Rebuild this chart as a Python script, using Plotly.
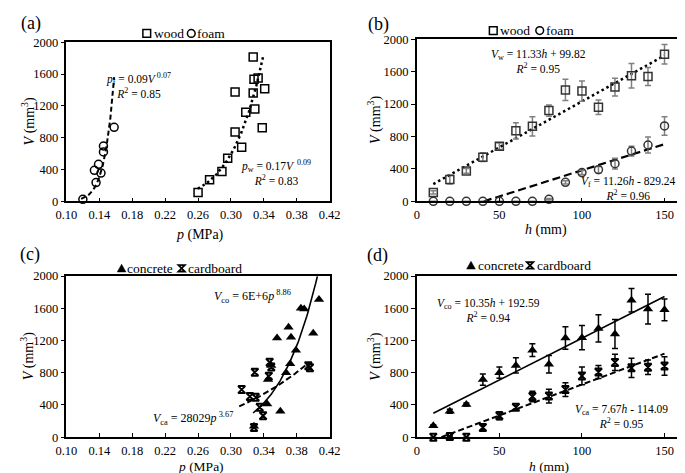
import numpy as np
import plotly.graph_objects as go

# ---------------- data ----------------
# (a) pressure p (MPa) vs volume V (mm^3)
a_wood_p = [0.260, 0.274, 0.289, 0.296, 0.305, 0.305, 0.313, 0.318, 0.327, 0.327, 0.328, 0.329, 0.333, 0.338, 0.341]
a_wood_V = [110, 270, 375, 540, 870, 1375, 680, 1120, 1360, 1815, 1535, 1160, 1550, 925, 1415]
a_foam_p = [0.120, 0.136, 0.134, 0.139, 0.142, 0.145, 0.145, 0.158]
a_foam_V = [25, 235, 390, 465, 355, 620, 695, 930]
# power-law trend curves p = a * V**b (as drawn), with V span
a_foam_fit = dict(a=0.0917, b=0.074, Vmin=30, Vmax=1560)
a_wood_fit = dict(a=0.1496, b=0.109, Vmin=158, Vmax=1813)

# (b) height h (mm) vs volume V (mm^3)
h_vals = [10, 20, 30, 40, 50, 60, 70, 80, 90, 100, 110, 120, 130, 140, 150]
b_wood_V = [110, 270, 375, 545, 680, 870, 925, 1120, 1375, 1360, 1160, 1410, 1550, 1540, 1815]
b_wood_err = [20, 55, 30, 55, 40, 100, 120, 70, 130, 125, 90, 110, 150, 110, 120]
b_foam_V = [0, 0, 0, 0, 0, 0, 0, 25, 235, 355, 390, 465, 620, 695, 930]
b_foam_err = [0, 0, 0, 0, 0, 0, 0, 10, 20, 25, 40, 65, 60, 100, 115]
b_wood_line = dict(slope=11.33, icpt=99.82, hmin=10, hmax=150)
b_foam_line = dict(slope=6.45, icpt=-262, hmin=40.6, hmax=150)

# (c) pressure vs volume: concrete / cardboard
c_conc_p = [0.328, 0.360, 0.344, 0.345, 0.367, 0.349, 0.379, 0.372, 0.356, 0.373, 0.370, 0.400, 0.407, 0.385, 0.389]
c_conc_V = [135, 320, 410, 715, 800, 890, 1080, 910, 1230, 1240, 1365, 1290, 1710, 1600, 1590]
c_card_p = [0.328, 0.339, 0.335, 0.330, 0.323, 0.313, 0.346, 0.329, 0.347, 0.396, 0.349, 0.394]
c_card_V = [120, 265, 370, 495, 505, 590, 755, 805, 930, 862, 870, 885]
c_conc_fit = dict(c=6e6, k=8.86, pmin=0.327, pmax=0.405)     # V = c * p**k
c_card_fit = dict(c=28029, k=3.67, pmin=0.310, pmax=0.395)

# (d) height vs volume: concrete / cardboard
d_conc_V = [140, 320, 405, 715, 800, 890, 1080, 905, 1230, 1235, 1350, 1280, 1700, 1590, 1580]
d_conc_err = [15, 25, 20, 70, 70, 95, 80, 110, 140, 150, 170, 180, 145, 185, 135]
d_card_V = [0, 8, 0, 120, 265, 370, 505, 510, 590, 760, 808, 928, 860, 868, 884]
d_card_err = [0, 10, 0, 30, 50, 25, 65, 85, 85, 110, 80, 100, 120, 90, 115]
d_conc_line = dict(slope=10.35, icpt=192.59, hmin=10, hmax=150)
d_card_line = dict(slope=7.67, icpt=-114.09, hmin=14.87, hmax=150)

p_ticks = [0.10, 0.14, 0.18, 0.22, 0.26, 0.30, 0.34, 0.38, 0.42]
h_ticks = [0, 50, 100, 150]
V_ticks = [0, 400, 800, 1200, 1600, 2000]

# ---------------- figure ----------------
W, H = 685, 473
FONT = "Liberation Serif"
BLACK = "#000000"


def px(x):
    return x / W


def py(y):
    return 1 - y / H


fig = go.Figure()


def markers(x, y, ax, symbol, size, color, lw=1.5, err=None, errcolor=None):
    kw = {}
    if err is not None:
        kw["error_y"] = dict(type="data", array=err, visible=True, color=errcolor,
                             thickness=1.5, width=3)
    fig.add_trace(go.Scatter(
        x=x, y=y, mode="markers", xaxis="x" + ax, yaxis="y" + ax,
        marker=dict(symbol=symbol, size=size, color=color, line=dict(width=lw, color=color)),
        cliponaxis=False, showlegend=False, **kw))


def line(x, y, ax, dash, width=2.0):
    fig.add_trace(go.Scatter(
        x=x, y=y, mode="lines", xaxis="x" + ax, yaxis="y" + ax,
        line=dict(color=BLACK, width=width, dash=dash), showlegend=False,
        hoverinfo="skip"))


# (a)
Vf = np.linspace(a_foam_fit["Vmin"], a_foam_fit["Vmax"], 80)
line(a_foam_fit["a"] * Vf ** a_foam_fit["b"], Vf, "", "5px,3px", 2)
Vw = np.linspace(a_wood_fit["Vmin"], a_wood_fit["Vmax"], 80)
line(a_wood_fit["a"] * Vw ** a_wood_fit["b"], Vw, "", "2.5px,3px", 2.5)
markers(a_wood_p, a_wood_V, "", "square-open", 8, BLACK)
markers(a_foam_p, a_foam_V, "", "circle-open", 8, BLACK)

# (b)
hw = np.array([b_wood_line["hmin"], b_wood_line["hmax"]])
line(hw, b_wood_line["slope"] * hw + b_wood_line["icpt"], "2", "2.5px,3px", 2.5)
hf = np.array([b_foam_line["hmin"], b_foam_line["hmax"]])
line(hf, b_foam_line["slope"] * hf + b_foam_line["icpt"], "2", "8px,4px", 2.2)
markers(h_vals, b_wood_V, "2", "square-open", 8, "#333333", err=b_wood_err, errcolor="#808080")
markers(h_vals, b_foam_V, "2", "circle-open", 8, "#333333", err=b_foam_err, errcolor="#808080")

# (c)
pc = np.linspace(c_conc_fit["pmin"], c_conc_fit["pmax"], 80)
line(pc, c_conc_fit["c"] * pc ** c_conc_fit["k"], "3", "solid", 1.6)
pk = np.linspace(c_card_fit["pmin"], c_card_fit["pmax"], 80)
line(pk, c_card_fit["c"] * pk ** c_card_fit["k"], "3", "6px,3px", 2)
markers(c_conc_p, c_conc_V, "3", "triangle-up", 9, BLACK, lw=0)
markers(c_card_p, c_card_V, "3", "hourglass-open", 7, BLACK, lw=2)

# (d)
hc = np.array([d_conc_line["hmin"], d_conc_line["hmax"]])
line(hc, d_conc_line["slope"] * hc + d_conc_line["icpt"], "4", "solid", 1.6)
hk = np.array([d_card_line["hmin"], d_card_line["hmax"]])
line(hk, d_card_line["slope"] * hk + d_card_line["icpt"], "4", "6px,3px", 2)
markers(h_vals, d_conc_V, "4", "triangle-up", 9, BLACK, lw=0, err=d_conc_err, errcolor=BLACK)
markers(h_vals, d_card_V, "4", "hourglass-open", 7, BLACK, lw=2, err=d_card_err, errcolor=BLACK)

# ---------------- axes ----------------
tickfont = dict(family=FONT, size=12.5, color=BLACK)


def xax(domain, anchor, rng, tickvals, fmt=None):
    d = dict(domain=domain, anchor=anchor, range=rng, tickvals=tickvals,
             ticks="inside", ticklen=4, tickwidth=1.2, tickcolor=BLACK,
             showline=True, linecolor=BLACK, linewidth=1.5, mirror=True,
             showgrid=False, zeroline=False, tickfont=tickfont, ticklabelstandoff=1)
    if fmt:
        d["tickformat"] = fmt
    return d


def yax(domain, anchor):
    return dict(domain=domain, anchor=anchor, range=[0, 2000], tickvals=V_ticks,
                ticks="outside", ticklen=4, tickwidth=1.2, tickcolor=BLACK,
                showline=True, linecolor=BLACK, linewidth=1.5, mirror=True,
                showgrid=False, zeroline=False, tickfont=tickfont)


xl = [px(49), px(321)]
xr = [px(411), px(684)]
yt_a = [py(192), py(28)]
yt_b = [py(192), py(25)]
yb = [py(435), py(269)]

layout = dict(
    width=W, height=H, margin=dict(l=0, r=0, t=0, b=0),
    paper_bgcolor="white", plot_bgcolor="white", showlegend=False,
    font=dict(family=FONT, color=BLACK),
    xaxis=xax(xl, "y", [0.10, 0.42], p_ticks, ".2f"),
    yaxis=yax(yt_a, "x"),
    xaxis2=xax(xr, "y2", [0, 160], h_ticks),
    yaxis2=yax(yt_b, "x2"),
    xaxis3=xax(xl, "y3", [0.10, 0.42], p_ticks, ".2f"),
    yaxis3=yax(yb, "x3"),
    xaxis4=xax(xr, "y4", [0, 160], h_ticks),
    yaxis4=yax(yb, "x4"),
)
fig.update_layout(**layout)

# ---------------- annotations ----------------
ann = []


def t(text, x, y, size=12, xref="paper", yref="paper", xanchor="center", angle=0,
      align="center"):
    ann.append(dict(text=text, x=x, y=y, xref=xref, yref=yref, xanchor=xanchor,
                    yanchor="middle", showarrow=False, textangle=angle, align=align,
                    font=dict(family=FONT, size=size, color=BLACK)))


# panel labels
t("(a)", px(12), py(9), 18)
t("(b)", px(371), py(10), 18)
t("(c)", px(11), py(247), 18)
t("(d)", px(370), py(248), 18)

# axis titles
ytitle = "<i>V</i> (mm<sup>3</sup>)"
t(ytitle, px(10), py(110), 14, angle=-90)
t(ytitle, px(368), py(108), 14, angle=-90)
t(ytitle, px(9), py(352), 14, angle=-90)
t(ytitle, px(367), py(352), 14, angle=-90)
t("<i>p</i> (MPa)", px(187), py(227), 14)
t("<i>h</i> (mm)", px(545), py(222), 14)
t("<i>p</i> (MPa)", px(188), py(465.5), 13.5)
t("<i>h</i> (mm)", px(548), py(465.5), 13.5)

# equations (equation + R^2 as one two-line label)
R2 = "<i>R</i><sup>2</sup> = "
t("<i>p</i><sub>f</sub> = 0.09<i>V</i><sup> 0.07</sup><br>" + R2 + "0.85",
  0.188, 1450, 11.5, "x", "y")
t("<i>p</i><sub>w</sub> = 0.17<i>V</i><sup>  0.09</sup><br>" + R2 + "0.83",
  0.355, 360, 11.5, "x", "y")

t("<i>V</i><sub>w</sub> = 11.33<i>h</i> + 99.82<br>" + R2 + "0.95",
  73.5, 1723, 11.5, "x2", "y2")
t("<i>V</i><sub>f</sub> = 11.26<i>h</i> - 829.24<br>" + R2 + "0.96",
  128, 162, 11.5, "x2", "y2")

t("<i>V</i><sub>co</sub> = 6E+6<i>p</i><sup> 8.86</sup>", 0.326, 1748, 12, "x3", "y3")
t("<i>V</i><sub>ca</sub> = 28029<i>p</i><sup> 3.67</sup>", 0.254, 228, 12, "x3", "y3")

t("<i>V</i><sub>co</sub> = 10.35<i>h</i> + 192.59<br>" + R2 + "0.94",
  43.5, 1568, 11.5, "x4", "y4")
t("<i>V</i><sub>ca</sub> = 7.67<i>h</i> - 114.09<br>" + R2 + "0.95",
  124, 257, 11.5, "x4", "y4")

# legend texts
t("wood", px(137), py(19), 13.5, xanchor="left")
t("foam", px(182), py(19), 13.5, xanchor="left")
t("wood", px(495), py(16), 13.5, xanchor="left")
t("foam", px(542), py(16), 13.5, xanchor="left")
t("concrete", px(110), py(261), 13.5, xanchor="left")
t("cardboard", px(173), py(261), 13.5, xanchor="left")
t("concrete", px(472), py(258), 13.5, xanchor="left")
t("cardboard", px(533), py(258), 13.5, xanchor="left")

fig.update_layout(annotations=ann)

# legend symbols (shapes in paper coords)
shapes = []


def sq(cx, cy, r=4):
    shapes.append(dict(type="rect", xref="paper", yref="paper", x0=px(cx - r), x1=px(cx + r),
                       y0=py(cy + r), y1=py(cy - r), line=dict(color=BLACK, width=1.5)))


def circ(cx, cy, r=4):
    shapes.append(dict(type="circle", xref="paper", yref="paper", x0=px(cx - r), x1=px(cx + r),
                       y0=py(cy + r), y1=py(cy - r), line=dict(color=BLACK, width=1.5)))


def tri(cx, cy):
    path = f"M {px(cx-4.5)},{py(cy+3.8)} L {px(cx+4.5)},{py(cy+3.8)} L {px(cx)},{py(cy-4.2)} Z"
    shapes.append(dict(type="path", xref="paper", yref="paper", path=path,
                       fillcolor=BLACK, line=dict(color=BLACK, width=0.5)))


def hourglass(cx, cy, r=3.3):
    path = (f"M {px(cx-r)},{py(cy-r)} L {px(cx+r)},{py(cy-r)} L {px(cx-r)},{py(cy+r)} "
            f"L {px(cx+r)},{py(cy+r)} Z")
    shapes.append(dict(type="path", xref="paper", yref="paper", path=path,
                       line=dict(color=BLACK, width=1.8)))


sq(132, 19)
circ(178, 19)
sq(490, 16)
circ(538, 16)
tri(106, 261)
hourglass(168, 261)
tri(467, 258)
hourglass(528, 258)
fig.update_layout(shapes=shapes)

fig.write_html("out.html")
